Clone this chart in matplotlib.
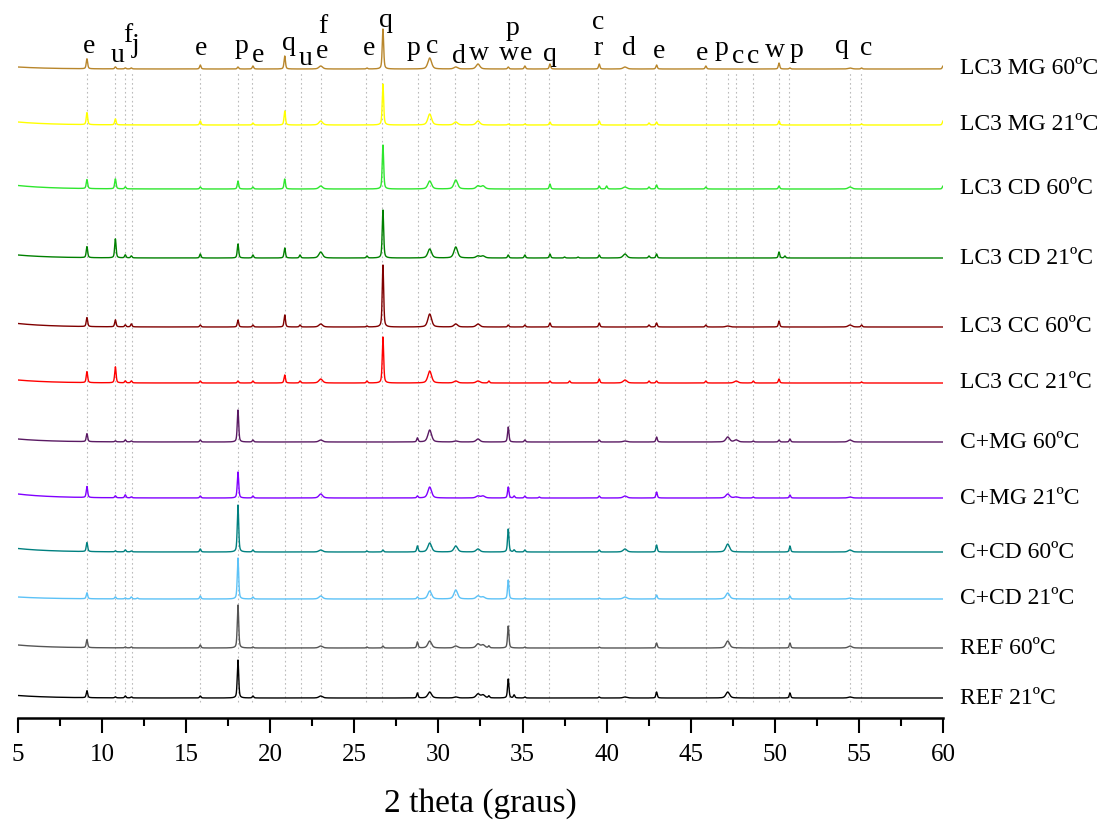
"""
Stacked XRD patterns (LC3 / C+ / REF pastes at 21 and 60 ºC) with phase labels.
Output: out.png
"""

import numpy as np
import matplotlib
matplotlib.use("Agg")
import matplotlib.pyplot as plt

matplotlib.rcParams.update({
    "font.family": "serif",
    "font.serif":  ["Liberation Serif", "DejaVu Serif"],
})

# ── Data (peak position in 2θ, height above the trace baseline) ─────────────
SAMPLES = ["REF 21ºC", "REF 60ºC", "C+CD 21ºC", "C+CD 60ºC", "C+MG 21ºC",
           "C+MG 60ºC", "LC3 CC 21ºC", "LC3 CC 60ºC", "LC3 CD 21ºC",
           "LC3 CD 60ºC", "LC3 MG 21ºC", "LC3 MG 60ºC"]
OFFSETS = [20, 70, 119, 166, 220, 276, 335, 391, 460, 529, 593, 649]
COLORS = ["#000000", "#555555", "#5CC2F7", "#008080", "#8000FF", "#5A1A63",
          "#FF0000", "#800000", "#008000", "#2EE62E", "#FFFF00", "#B8862B"]

LOW_ANGLE = [2.5, 3, 2, 3.5, 4, 3, 3, 3.5, 3, 3.5, 3, 2]   # rise towards 5°

PEAKS_REF_21 = [(9.1, 7), (10.79, 1), (11.38, 2), (11.74, 1), (15.84, 2),
                (18.08, 38), (18.97, 2), (23.0, 2), (28.75, 5), (29.48, 6),
                (31.03, 1), (32.35, 4), (32.65, 3), (33.0, 2), (34.15, 19),
                (34.5, 3), (35.14, 1), (39.56, 1), (41.09, 1), (42.97, 6),
                (47.2, 6), (50.9, 5), (54.47, 1)]
PEAKS_REF_60 = [(9.1, 8), (11.38, 1), (11.74, 1), (15.84, 3), (18.08, 43),
                (18.97, 1), (23.0, 2), (25.75, 1), (26.7, 2), (28.75, 6),
                (29.48, 7), (31.03, 2), (32.35, 4), (32.65, 3), (33.0, 2),
                (34.15, 22), (35.14, 1), (39.56, 1), (42.97, 5), (47.2, 7),
                (50.9, 5), (54.47, 2)]
PEAKS_CCD_21 = [(9.1, 6), (10.79, 2), (11.38, 1), (11.74, 2), (12.1, 1),
                (15.84, 3), (18.08, 41), (18.97, 2), (23.0, 3), (28.75, 2),
                (29.48, 8), (31.03, 9), (32.35, 3), (32.65, 2), (34.15, 19),
                (35.14, 1), (39.56, 1), (41.09, 2), (42.97, 4), (47.2, 6),
                (50.9, 3), (54.47, 1)]
PEAKS_CCD_60 = [(9.1, 9), (10.79, 1), (11.38, 2), (11.74, 1), (15.84, 3),
                (18.08, 47), (18.97, 2), (23.0, 2), (25.75, 1), (26.7, 2),
                (28.75, 6), (29.48, 9), (31.03, 6), (32.35, 3), (34.15, 23),
                (34.5, 2), (35.14, 2), (39.56, 2), (41.09, 3), (42.97, 7),
                (47.2, 8), (50.9, 6), (54.47, 2)]
PEAKS_CMG_21 = [(9.1, 11), (10.79, 2), (11.38, 3), (11.74, 1), (15.84, 2),
                (18.08, 26), (18.97, 2), (23.0, 4), (28.75, 2), (29.48, 11),
                (32.35, 2), (32.65, 2), (34.15, 11), (34.5, 2), (35.14, 2),
                (36.0, 1), (39.56, 2), (41.09, 2), (42.97, 6), (47.2, 4),
                (47.7, 1), (48.72, 1), (50.9, 3), (54.47, 1)]
PEAKS_CMG_60 = [(9.1, 8), (10.79, 1), (11.38, 2), (11.74, 1), (15.84, 2),
                (18.08, 32), (18.97, 2), (23.0, 2), (28.75, 4), (29.48, 12),
                (31.03, 1), (32.35, 3), (34.15, 15), (35.14, 2), (39.56, 2),
                (41.09, 1), (42.97, 5), (47.2, 5), (47.7, 2), (48.72, 1),
                (50.25, 2), (50.9, 3), (54.47, 2)]
PEAKS_LCC_21 = [(9.1, 11), (10.79, 16), (11.38, 2), (11.74, 2), (15.84, 2),
                (18.08, 2), (18.97, 2), (20.86, 8), (21.77, 2), (23.0, 4),
                (25.75, 2), (26.7, 46), (29.48, 12), (31.03, 2), (32.35, 2),
                (33.0, 2), (36.63, 2), (37.8, 2), (39.56, 4), (41.09, 3),
                (42.52, 2), (42.97, 2), (45.9, 2), (47.7, 2), (48.72, 2),
                (50.25, 4), (55.16, 1)]
PEAKS_LCC_60 = [(9.1, 9), (10.79, 7), (11.38, 2), (11.74, 3), (15.84, 2),
                (18.08, 7), (18.97, 2), (20.86, 12), (21.77, 2), (23.0, 3),
                (25.75, 1), (26.7, 62), (29.48, 13), (31.03, 3), (32.35, 3),
                (34.15, 2), (35.14, 2), (36.63, 4), (39.56, 4), (42.52, 2),
                (42.97, 4), (45.9, 2), (47.2, 1), (50.25, 6), (54.47, 2),
                (55.16, 2)]
PEAKS_LCD_21 = [(9.1, 11), (10.79, 19), (11.38, 3), (11.74, 2), (15.84, 4),
                (18.08, 14), (18.97, 3), (20.86, 10), (21.77, 3), (23.0, 6),
                (25.75, 2), (26.7, 48), (29.48, 9), (31.03, 11), (32.35, 2),
                (32.65, 2), (34.15, 3), (35.14, 3), (36.63, 4), (37.5, 1),
                (38.3, 1), (39.56, 3), (41.09, 4), (42.52, 2), (42.97, 4),
                (50.25, 6), (50.6, 2)]
PEAKS_LCD_60 = [(9.1, 9), (10.79, 10), (11.38, 2), (15.84, 2), (18.08, 8),
                (18.97, 2), (20.86, 10), (23.0, 3), (26.7, 44), (29.48, 8),
                (31.03, 9), (32.35, 3), (32.65, 3), (36.63, 5), (39.56, 3),
                (40.0, 3), (41.09, 2), (42.52, 2), (42.97, 4), (45.9, 2),
                (50.25, 3), (54.47, 2), (60.0, 3)]
PEAKS_LMG_21 = [(9.1, 12), (10.79, 6), (15.84, 4), (18.97, 2), (20.86, 14),
                (23.0, 4), (26.7, 41), (29.48, 11), (31.03, 3), (32.35, 4),
                (34.15, 1), (35.14, 1), (36.63, 3), (39.56, 4), (42.52, 2),
                (42.97, 3), (50.25, 4), (55.16, 1), (60.0, 4)]
PEAKS_LMG_60 = [(9.1, 10), (10.79, 2), (11.38, 1), (11.74, 1), (15.84, 4),
                (18.08, 2), (18.97, 3), (20.86, 13), (23.0, 3), (25.75, 1),
                (26.7, 40), (29.48, 11), (31.03, 2), (32.35, 5), (34.15, 2),
                (35.14, 3), (36.63, 5), (39.56, 5), (41.09, 2), (42.97, 4),
                (45.9, 3), (50.25, 6), (50.9, 1), (54.47, 1), (55.16, 1),
                (60.0, 3)]

ALL_PEAKS = [PEAKS_REF_21, PEAKS_REF_60, PEAKS_CCD_21, PEAKS_CCD_60,
             PEAKS_CMG_21, PEAKS_CMG_60, PEAKS_LCC_21, PEAKS_LCC_60,
             PEAKS_LCD_21, PEAKS_LCD_60, PEAKS_LMG_21, PEAKS_LMG_60]

# broader reflections (C-S-H / calcite region)
BROAD_POS = [23.0, 29.48, 31.03, 32.35, 32.65, 41.09, 47.2, 47.7, 54.47]

# reference lines and phase letters
REF_LINES = [9.1, 10.77, 11.36, 11.78, 15.8, 18.1, 18.9, 20.85, 21.8, 23.0,
             25.7, 26.65, 28.8, 29.5, 31.0, 32.35, 34.2, 35.15, 36.6, 39.5,
             41.1, 42.9, 45.9, 47.23, 47.72, 48.7, 50.25, 50.85, 54.5, 55.1]
PHASE_LETTERS = ["e", "u", "f", "j", "e", "p", "e", "q", "u", "f", "e", "e",
                 "q", "p", "c", "d", "w", "p", "w", "e", "q", "c", "r", "d",
                 "e", "e", "p", "c", "c", "w", "p", "q", "c"]
PHASE_X = [9.2, 10.9, 11.5, 12.0, 15.9, 18.3, 19.3, 21.1, 22.1, 23.1, 23.1,
           25.9, 26.9, 28.5, 29.6, 31.2, 32.4, 34.4, 34.2, 35.2, 36.6, 39.5,
           39.5, 41.3, 43.1, 45.7, 46.85, 47.8, 48.7, 50.0, 51.3, 54.0, 55.4]
PHASE_Y = [665, 656, 676, 666, 663, 665, 656, 668, 653, 685, 660, 663, 691,
           663, 665, 655, 658, 683, 658, 658, 657, 689, 663, 663, 660, 658,
           663, 655, 655, 661, 661, 665, 663]

# ── Build traces ────────────────────────────────────────────────────────────
two_theta = np.arange(5.0, 60.001, 0.01)


def pattern(peaks, low):
    y = low * np.exp(-(two_theta - 5.0) / 2.0)
    for pos, h in peaks:
        w = 0.13 if pos in BROAD_POS else 0.05
        d = (two_theta - pos) / w
        y += h * (0.5 / (1 + d ** 2) + 0.5 * np.exp(-np.log(2) * d ** 2))
    return y


# ── Plot ────────────────────────────────────────────────────────────────────
fig = plt.figure(figsize=(11.02, 8.25), dpi=100)
ax = fig.add_axes([18 / 1102, 107 / 825, 925 / 1102, 713 / 825])

for xv in REF_LINES:
    ax.plot([xv, xv], [16, 645], color="#bbbbbb", linestyle=(0, (1.5, 2.5)),
            linewidth=0.8, zorder=1)

for name, off, col, peaks, low in zip(SAMPLES, OFFSETS, COLORS, ALL_PEAKS,
                                      LOW_ANGLE):
    ax.plot(two_theta, off + pattern(peaks, low), color=col, linewidth=1.0,
            zorder=3)
    ax.text(61.0, off, name, fontsize=17, ha="left", va="center",
            clip_on=False)

for letter, xv, yv in zip(PHASE_LETTERS, PHASE_X, PHASE_Y):
    ax.text(xv, yv, letter, fontsize=20, ha="center", va="baseline", zorder=4)

ax.set_xlim(5, 60)
ax.set_ylim(0, 713)
ax.set_xticks(np.arange(5, 61, 5))
ax.set_xticks(np.arange(7.5, 60, 5), minor=True)
ax.tick_params(axis="x", which="major", length=11, width=1.5, labelsize=18,
               pad=8)
ax.tick_params(axis="x", which="minor", length=5.5, width=1.5)
ax.set_yticks([])
ax.spines[["top", "right", "left"]].set_visible(False)
ax.spines["bottom"].set_linewidth(1.8)
ax.set_xlabel("2 theta (graus)", fontsize=24, labelpad=16)

fig.savefig("out.png", dpi=100)
